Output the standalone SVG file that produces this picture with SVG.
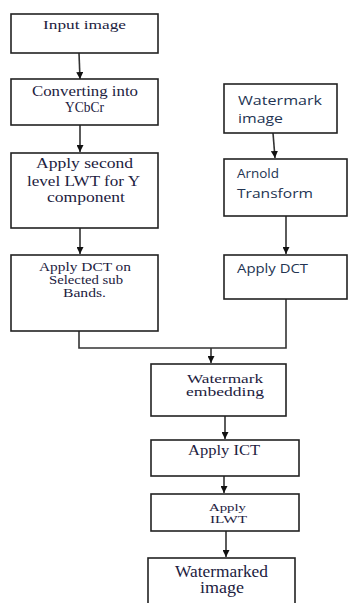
<svg xmlns="http://www.w3.org/2000/svg" width="352" height="603" viewBox="0 0 352 603">
<defs>
<style>
.box{fill:#fff;stroke:#222;stroke-width:1.6}
.s{font-family:"Liberation Serif","Times New Roman",serif;fill:#1c2140;text-anchor:start}
.a{font-family:"Open Sans","Liberation Sans",sans-serif;fill:#233452;font-size:13.5px}
.c{fill:none;stroke:#333;stroke-width:1.6}
</style>
<marker id="ah" viewBox="0 0 10 10" refX="10" refY="5" markerWidth="7" markerHeight="7" markerUnits="userSpaceOnUse" orient="auto">
<path d="M0,0 L10,5 L0,10 z" fill="#111"/>
</marker>
</defs>
<rect width="352" height="603" fill="#fff"/>
<g id="connectors">
<line class="c" x1="79" y1="53" x2="80" y2="79" marker-end="url(#ah)"/>
<line class="c" x1="80" y1="125" x2="80" y2="152" marker-end="url(#ah)"/>
<line class="c" x1="80" y1="228" x2="80" y2="254" marker-end="url(#ah)"/>
<line class="c" x1="273" y1="133" x2="275" y2="158" marker-end="url(#ah)"/>
<line class="c" x1="286" y1="216" x2="286" y2="254" marker-end="url(#ah)"/>
<polyline class="c" points="79,331 79,348 286,348 286,299"/>
<line class="c" x1="211" y1="348" x2="211" y2="363" marker-end="url(#ah)"/>
<line class="c" x1="225" y1="416" x2="225" y2="439" marker-end="url(#ah)"/>
<line class="c" x1="224" y1="476" x2="224" y2="493" marker-end="url(#ah)"/>
<line class="c" x1="226" y1="531" x2="226" y2="557" marker-end="url(#ah)"/>
</g>
<g id="n1"><rect class="box" x="11" y="14" width="147" height="39"/>
<text class="s" font-size="13" x="43" y="29" textLength="83" lengthAdjust="spacingAndGlyphs">Input image</text></g>
<g id="n2"><rect class="box" x="11" y="79" width="147" height="46"/>
<text class="s" font-size="14" x="32" y="96" textLength="106" lengthAdjust="spacingAndGlyphs">Converting into</text>
<text class="s" font-size="14" x="65" y="112" textLength="39" lengthAdjust="spacingAndGlyphs">YCbCr</text></g>
<g id="n3"><rect class="box" x="11" y="153" width="147" height="75"/>
<text class="s" font-size="15" x="36" y="168" textLength="97" lengthAdjust="spacingAndGlyphs">Apply second</text>
<text class="s" font-size="15" x="27" y="186" textLength="113" lengthAdjust="spacingAndGlyphs">level LWT for Y</text>
<text class="s" font-size="15" x="47" y="202" textLength="78" lengthAdjust="spacingAndGlyphs">component</text></g>
<g id="n4"><rect class="box" x="11" y="255" width="147" height="76"/>
<text class="s" font-size="12" x="39" y="271" textLength="92" lengthAdjust="spacingAndGlyphs">Apply DCT on</text>
<text class="s" font-size="12" x="49" y="284" textLength="74" lengthAdjust="spacingAndGlyphs">Selected sub</text>
<text class="s" font-size="12" x="63" y="297" textLength="43" lengthAdjust="spacingAndGlyphs">Bands.</text></g>
<g id="n5"><rect class="box" x="224" y="84" width="113" height="49"/>
<text class="a" x="238" y="105" textLength="84" lengthAdjust="spacingAndGlyphs">Watermark</text>
<text class="a" x="238" y="123" textLength="45" lengthAdjust="spacingAndGlyphs">image</text></g>
<g id="n6"><rect class="box" x="224" y="159" width="123" height="57"/>
<text class="a" x="237" y="178" textLength="42" lengthAdjust="spacingAndGlyphs">Arnold</text>
<text class="a" x="237" y="198" textLength="76" lengthAdjust="spacingAndGlyphs">Transform</text></g>
<g id="n7"><rect class="box" x="224" y="255" width="123" height="44"/>
<text class="a" x="237" y="273" textLength="71" lengthAdjust="spacingAndGlyphs">Apply DCT</text></g>
<g id="n8"><rect class="box" x="151" y="364" width="135" height="52"/>
<text class="s" font-size="12.5" x="187" y="383" textLength="76" lengthAdjust="spacingAndGlyphs">Watermark</text>
<text class="s" font-size="12.5" x="186" y="396" textLength="78" lengthAdjust="spacingAndGlyphs">embedding</text></g>
<g id="n9"><rect class="box" x="151" y="440" width="148" height="36"/>
<text class="s" font-size="14" x="188" y="455" textLength="72" lengthAdjust="spacingAndGlyphs">Apply ICT</text></g>
<g id="n10"><rect class="box" x="151" y="494" width="148" height="37"/>
<text class="s" font-size="11" x="209" y="511" textLength="37" lengthAdjust="spacingAndGlyphs">Apply</text>
<text class="s" font-size="11" x="210" y="523" textLength="37" lengthAdjust="spacingAndGlyphs">ILWT</text></g>
<g id="n11"><rect class="box" x="148" y="558" width="147" height="60"/>
<text class="s" font-size="16" x="175" y="577" textLength="93" lengthAdjust="spacingAndGlyphs">Watermarked</text>
<text class="s" font-size="16" x="200" y="593" textLength="44" lengthAdjust="spacingAndGlyphs">image</text></g>
</svg>
